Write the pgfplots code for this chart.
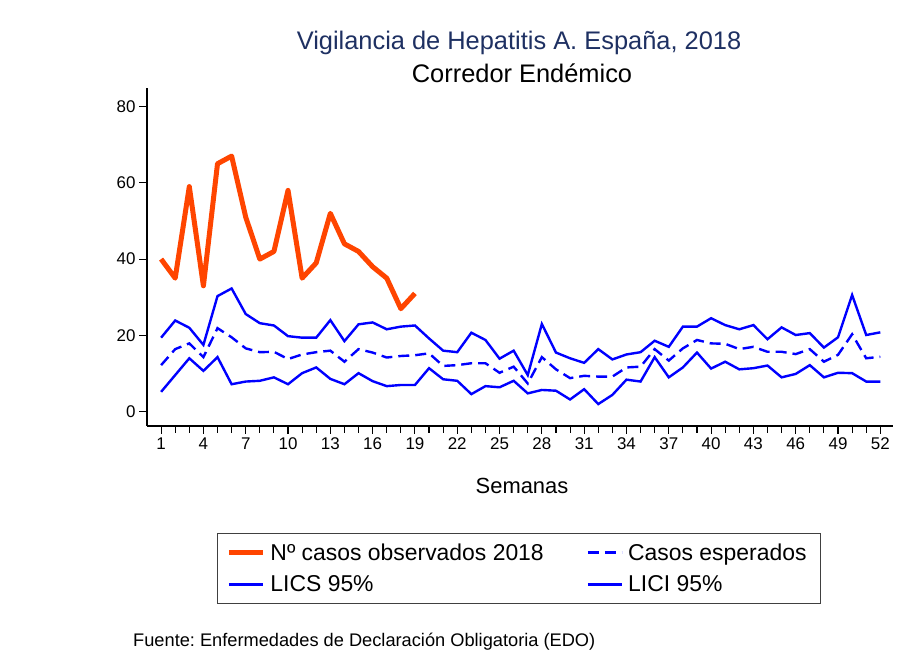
\documentclass[border=0pt]{standalone}
\usepackage{fontspec}
\setmainfont{Liberation Sans}
\usepackage{pgfplots}
\pgfplotsset{compat=1.18}
\definecolor{obs}{RGB}{255,69,0}
\definecolor{titleblue}{RGB}{30,48,98}
\definecolor{lineblue}{RGB}{0,0,255}
\begin{document}
\frenchspacing
\begin{tikzpicture}
\useasboundingbox (0,0) rectangle (907bp,661bp);
\begin{axis}[
  at={(147bp,235bp)}, anchor=south west,
  scale only axis, width=746bp, height=338bp,
  xmin=0, xmax=52.9, ymin=-3.75, ymax=84.85,
  axis x line*=bottom, axis y line*=left,
  axis line style={line width=1.1bp, black},
  xtick={1,4,...,52}, minor xtick={1,...,52},
  ytick={0,20,...,80},
  tick align=outside,
  major tick length=8bp, minor tick length=7bp,
  tick style={black, line width=1.1bp},
  tick label style={font=\fontsize{17}{20}\selectfont},
  /pgf/number format/assume math mode=true,
  xlabel={Semanas},
  xlabel style={font=\fontsize{22}{26}\selectfont, at={(rel axis cs:0.5027,-0.201)}, anchor=base},
  legend columns=2,
  legend cell align=left,
  legend style={at={(0.0938,-0.3166)}, anchor=north west, draw=black!75, line width=1bp,
    font=\fontsize{23}{27}\selectfont, inner xsep=9bp, inner ysep=6bp, row sep=6bp,
    nodes={inner xsep=5bp, inner ysep=4bp},
    /tikz/every even column/.append style={column sep=38bp}},
  legend image code/.code={\draw[#1] (0bp,0bp) -- (34bp,0bp);},
]
\addplot[obs, line width=5bp, line join=round] coordinates {
(1,40) (2,35) (3,59) (4,33) (5,65) (6,67) (7,51) (8,40) (9,42) (10,58)
(11,35) (12,39) (13,52) (14,44) (15,42) (16,38) (17,35) (18,27) (19,31)};
\addlegendentry{Nº casos observados 2018}
\addplot[lineblue, line width=2.4bp, dash pattern=on 11bp off 6bp] coordinates {
(1,12.2) (2,16.4) (3,17.9) (4,14.3) (5,21.9) (6,19.5) (7,16.6) (8,15.6) (9,15.7) (10,13.8)
(11,15.0) (12,15.6) (13,16.0) (14,13.1) (15,16.4) (16,15.5) (17,14.2) (18,14.6) (19,14.8) (20,15.3)
(21,12.0) (22,12.2) (23,12.7) (24,12.7) (25,10.2) (26,11.8) (27,7.4) (28,14.3) (29,11.1) (30,8.8)
(31,9.4) (32,9.2) (33,9.2) (34,11.6) (35,11.8) (36,16.4) (37,13.4) (38,16.6) (39,18.8) (40,17.9)
(41,17.8) (42,16.4) (43,17.0) (44,15.7) (45,15.7) (46,15.1) (47,16.4) (48,13.1) (49,14.9) (50,20.3)
(51,14.0) (52,14.4)};
\addlegendentry{Casos esperados}
\addplot[lineblue, line width=2.4bp] coordinates {
(1,19.4) (2,23.9) (3,22.0) (4,17.5) (5,30.3) (6,32.3) (7,25.6) (8,23.2) (9,22.6) (10,19.8)
(11,19.4) (12,19.4) (13,24.0) (14,18.5) (15,22.9) (16,23.4) (17,21.6) (18,22.3) (19,22.6) (20,19.2)
(21,16.0) (22,15.6) (23,20.7) (24,18.8) (25,13.9) (26,16.0) (27,9.6) (28,23.0) (29,15.5) (30,14.0)
(31,12.8) (32,16.4) (33,13.7) (34,15.0) (35,15.6) (36,18.6) (37,17.0) (38,22.3) (39,22.3) (40,24.5)
(41,22.7) (42,21.6) (43,22.7) (44,19.0) (45,22.1) (46,20.1) (47,20.6) (48,16.8) (49,19.5) (50,30.6)
(51,20.1) (52,20.8)};
\addlegendentry{LICS 95\%}
\addplot[lineblue, line width=2.4bp] coordinates {
(1,5.2) (2,9.6) (3,14.0) (4,10.7) (5,14.3) (6,7.2) (7,7.9) (8,8.1) (9,9.0) (10,7.2)
(11,10.1) (12,11.6) (13,8.6) (14,7.2) (15,10.1) (16,8.0) (17,6.7) (18,7.0) (19,7.0) (20,11.4)
(21,8.5) (22,8.1) (23,4.6) (24,6.7) (25,6.4) (26,8.1) (27,4.8) (28,5.7) (29,5.5) (30,3.2)
(31,5.9) (32,2.0) (33,4.4) (34,8.4) (35,7.9) (36,14.3) (37,9.0) (38,11.6) (39,15.5) (40,11.3)
(41,13.1) (42,11.1) (43,11.4) (44,12.1) (45,9.0) (46,9.9) (47,12.2) (48,9.0) (49,10.2) (50,10.1)
(51,7.9) (52,7.9)};
\addlegendentry{LICI 95\%}
\end{axis}
\node[anchor=base, text=titleblue, font=\fontsize{25.5}{30}\selectfont] at (519bp,611bp) {Vigilancia de Hepatitis A. España, 2018};
\node[anchor=base, font=\fontsize{25.5}{30}\selectfont] at (522bp,578bp) {Corredor Endémico};
\node[anchor=base west, inner sep=0pt, font=\fontsize{18.3}{22}\selectfont] at (133bp,15bp) {Fuente: Enfermedades de Declaración Obligatoria (EDO)};
\end{tikzpicture}
\end{document}
